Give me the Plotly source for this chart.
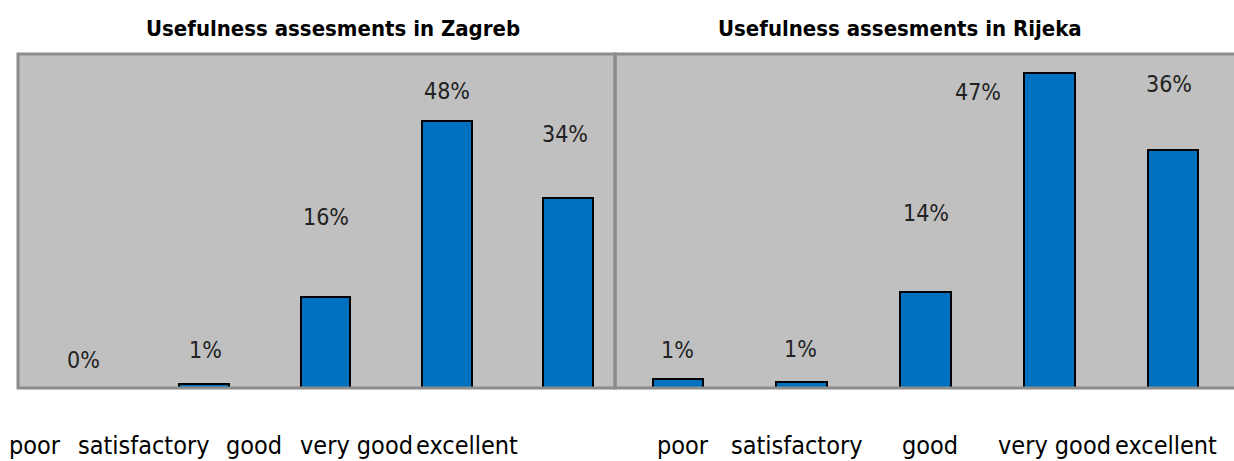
import plotly.graph_objects as go

categories = ["poor", "satisfactory", "good", "very good", "excellent"]
zagreb_values = [0.0, 0.8, 16.3, 47.9, 34.2]
zagreb_labels = ["0%", "1%", "16%", "48%", "34%"]
rijeka_values = [1.3, 0.9, 14.4, 47.1, 35.6]
rijeka_labels = ["1%", "1%", "14%", "47%", "36%"]
titles = ["Usefulness assesments in Zagreb", "Usefulness assesments in Rijeka"]

# styling offsets (pixels) for labels, as in the original layout
zagreb_label_yshift = [28, 34, 80, 30, 64]
zagreb_label_xshift = [1, 1, 1, 0, -3]
rijeka_label_yshift = [29, 33, 79, -19, 66]
rijeka_label_xshift = [0, -1, 1, -71, -4]
zagreb_cat_xshift = [-48, -61, -71, -90, -101]
rijeka_cat_xshift = [5, -5, 5, 5, -7]

FONT = "DejaVu Sans Condensed, Liberation Sans Narrow, Arial Narrow, sans-serif"
BAR = "#0070C0"
BORDER = "#8C8C8C"

fig = go.Figure()
fig.add_trace(go.Bar(x=list(range(5)), y=zagreb_values, xaxis="x", yaxis="y",
                     width=0.41, marker=dict(color=BAR, line=dict(color="black", width=2)),
                     showlegend=False, hoverinfo="skip"))
fig.add_trace(go.Bar(x=list(range(5)), y=rijeka_values, xaxis="x2", yaxis="y2",
                     width=0.41, marker=dict(color=BAR, line=dict(color="black", width=2)),
                     showlegend=False, hoverinfo="skip"))

ann = []
for i, (v, t) in enumerate(zip(zagreb_values, zagreb_labels)):
    ann.append(dict(x=i, y=v, xref="x", yref="y", text=t, showarrow=False,
                    yanchor="middle", xanchor="center",
                    yshift=zagreb_label_yshift[i], xshift=zagreb_label_xshift[i],
                    font=dict(family=FONT, size=23, color="#222222")))
for i, (v, t) in enumerate(zip(rijeka_values, rijeka_labels)):
    ann.append(dict(x=i, y=v, xref="x2", yref="y2", text=t, showarrow=False,
                    yanchor="middle", xanchor="center",
                    yshift=rijeka_label_yshift[i], xshift=rijeka_label_xshift[i],
                    font=dict(family=FONT, size=23, color="#222222")))
for i, c in enumerate(categories):
    ann.append(dict(x=i, y=1 - 445 / 461, xref="x", yref="paper", text=c, showarrow=False,
                    yanchor="middle", xanchor="center", xshift=zagreb_cat_xshift[i],
                    font=dict(family=FONT, size=25, color="black")))
    ann.append(dict(x=i, y=1 - 445 / 461, xref="x2", yref="paper", text=c, showarrow=False,
                    yanchor="middle", xanchor="center", xshift=rijeka_cat_xshift[i],
                    font=dict(family=FONT, size=25, color="black")))
ann.append(dict(x=333 / 1234, y=1 - 29 / 461, xref="paper", yref="paper", text="<b>%s</b>" % titles[0],
                showarrow=False, xanchor="center", yanchor="middle",
                font=dict(family=FONT, size=22, color="black")))
ann.append(dict(x=900 / 1234, y=1 - 29 / 461, xref="paper", yref="paper", text="<b>%s</b>" % titles[1],
                showarrow=False, xanchor="center", yanchor="middle",
                font=dict(family=FONT, size=22, color="black")))

shapes = [
    dict(type="rect", xref="x domain", yref="y domain", x0=0, x1=1, y0=0, y1=1,
         line=dict(color=BORDER, width=3), layer="above"),
    dict(type="rect", xref="x2 domain", yref="y2 domain", x0=0, x1=1.01, y0=0, y1=1,
         line=dict(color=BORDER, width=3), layer="above"),
]

axis_common = dict(showgrid=False, zeroline=False, showticklabels=False, ticks="", showline=False)
fig.update_layout(
    width=1234, height=461,
    margin=dict(l=0, r=0, t=0, b=0),
    paper_bgcolor="white", plot_bgcolor="#C0C0C0",
    xaxis=dict(domain=[18 / 1234, 615 / 1234], range=[-0.536, 4.388], **axis_common),
    xaxis2=dict(domain=[615 / 1234, 1.0], range=[-0.509, 4.493], **axis_common),
    yaxis=dict(domain=[1 - 388 / 461, 1 - 54 / 461], range=[0, 60], anchor="x", **axis_common),
    yaxis2=dict(domain=[1 - 388 / 461, 1 - 54 / 461], range=[0, 50], anchor="x2", **axis_common),
    annotations=ann, shapes=shapes, bargap=0,
)
fig.write_html("out.html", config={"displayModeBar": False},
               post_script="document.body.style.margin='0';")
